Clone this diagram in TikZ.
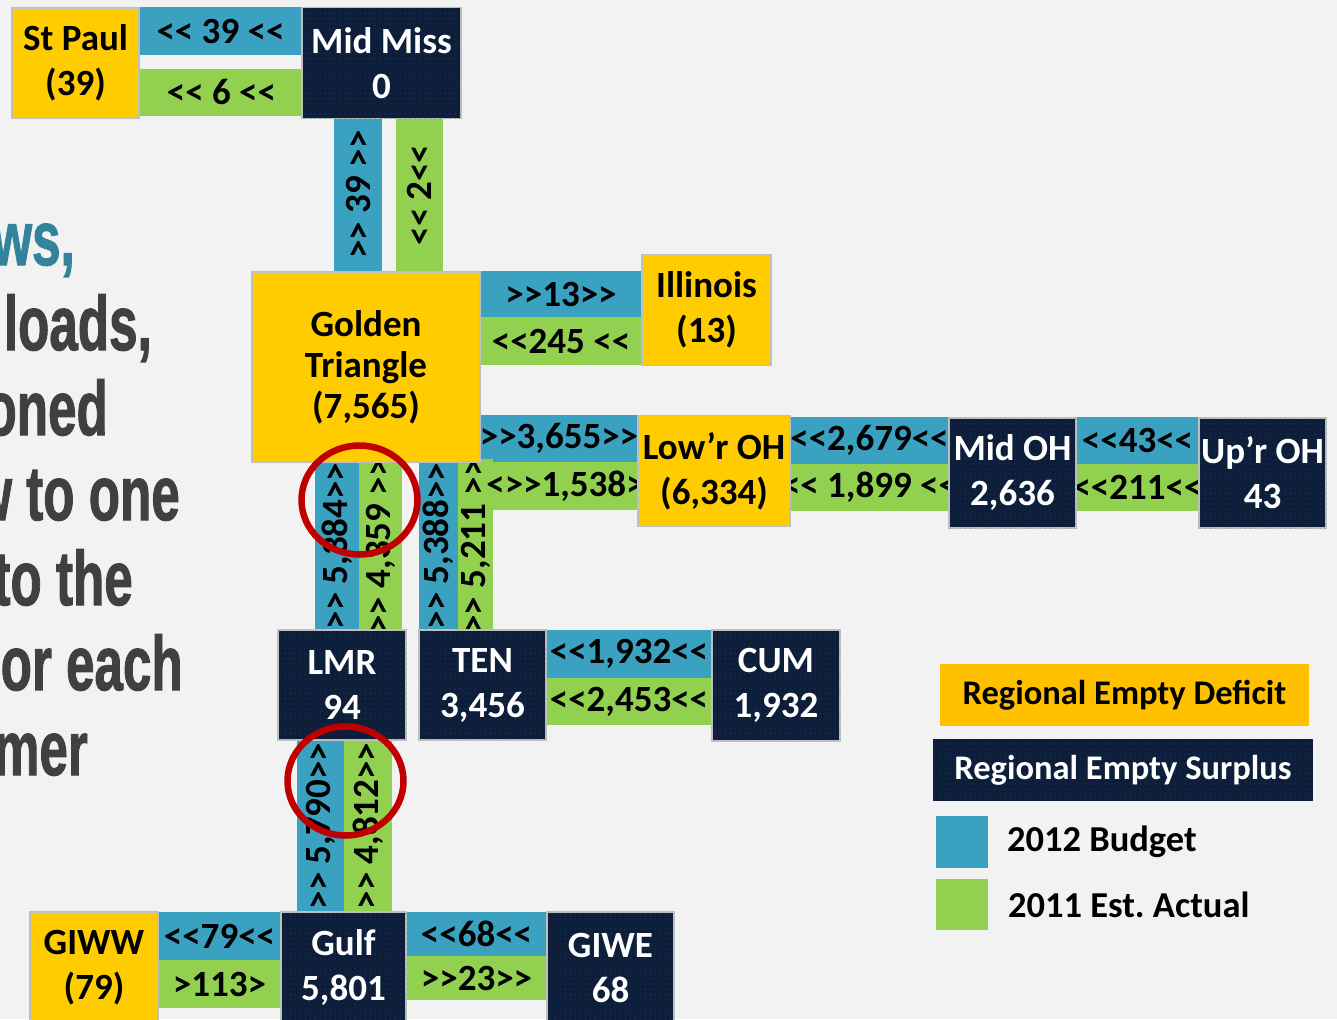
\documentclass[tikz,border=0pt]{standalone}
\usepackage{fontspec}
\usepackage{graphicx}
\usepackage{xcolor}
\usepackage{tikz}
\usetikzlibrary{positioning,patterns.meta}
\newfontfamily\calib{Carlito}
\newfontfamily\headfont{Liberation Sans}[BoldFeatures={FakeBold=1.6}]
\definecolor{deficitgold}{RGB}{255,204,0}
\definecolor{legendgold}{RGB}{255,192,0}
\definecolor{surplusnavy}{RGB}{12,30,58}
\definecolor{dotnavy}{RGB}{58,78,108}
\definecolor{budgetblue}{RGB}{59,161,192}
\definecolor{actualgreen}{RGB}{146,208,80}
\definecolor{slidegray}{RGB}{242,242,242}
\definecolor{edgegray}{RGB}{191,191,191}
\definecolor{circlered}{RGB}{192,0,0}
\definecolor{headteal}{RGB}{49,132,155}
\definecolor{headgray}{RGB}{64,64,64}
\tikzset{
  region/.style={draw=edgegray, line width=1.5pt, inner sep=0pt, outer sep=0pt, align=center, font=\calib\bfseries\fontsize{37}{45}\selectfont},
  deficit/.style={region, fill=deficitgold, text=black},
  surplus/.style={region, fill=surplusnavy, text=white, postaction={pattern={Dots[distance=5pt, radius=0.5pt]}, pattern color=dotnavy}},
  flow/.style={inner sep=0pt, outer sep=0pt, font=\calib\bfseries\fontsize{37}{40}\selectfont},
  budget/.style={flow, fill=budgetblue},
  actual/.style={flow, fill=actualgreen},
  headline/.style={anchor=base east, inner sep=0pt, text=headgray, font=\headfont\bfseries\fontsize{64}{70}\selectfont}
}

\begin{document}
\begin{tikzpicture}[x=1pt, y=-1pt]
\fill[slidegray] (0,0) rectangle (1337,1019);
\useasboundingbox (0,0) rectangle (1337,1019);
\clip (0,0) rectangle (1337,1019);

% slide text, cut at the left edge
\node[headline, text=headteal] (hlws) at (75,265) {\scalebox{0.8}[1.2]{ws,}};
\node[headline] (hlloads) at (152,350) {\scalebox{0.8}[1.2]{loads,}};
\node[headline] (hloned) at (108,435) {\scalebox{0.8}[1.2]{oned}};
\node[headline] (hltoone) at (180,520) {\scalebox{0.8}[1.2]{w to one}};
\node[headline] (hltothe) at (133,605) {\scalebox{0.8}[1.2]{to the}};
\node[headline] (hloreach) at (183,690) {\scalebox{0.8}[1.2]{or each}};
\node[headline] (hlmer) at (88,775) {\scalebox{0.8}[1.2]{mer}};

% flow bars
\node[budget, minimum width=163, minimum height=48] (spb) at (220.5,31) {<< 39 <<};
\node[actual, minimum width=165, minimum height=47] (spa) at (221.5,92.5) {<< 6 <<};
\node[budget, rotate=90, minimum width=153, minimum height=48] (mmb) at (358,194.5) {>> 39 >>};
\node[actual, rotate=90, minimum width=154, minimum height=47] (mma) at (419.5,195) {<< 2<<};
\node[budget, minimum width=162, minimum height=46] (ilb) at (561,294) {>>13>>};
\node[actual, minimum width=162, minimum height=48] (ila) at (561,341) {<<245 <<};
\node[budget, minimum width=158, minimum height=47] (lob) at (559,438.5) {>>3,655>>};
\node[actual, rotate=90, minimum width=168, minimum height=35] (tna) at (475.5,546) {>> 5,211 >>};
\node[actual, minimum width=145, minimum height=48] (loa) at (565.5,486) {<>>1,538>};
\node[budget, minimum width=159, minimum height=47] (mob) at (869.5,440.5) {<<2,679<<};
\node[actual, minimum width=159, minimum height=47] (moa) at (869.5,487.5) {<< 1,899 <<};
\node[budget, minimum width=123, minimum height=47] (upb) at (1137.5,440.5) {<<43<<};
\node[actual, minimum width=123, minimum height=47] (upa) at (1137.5,487.5) {<<211<<};
\node[budget, rotate=90, minimum width=168, minimum height=44] (lmb) at (337,546) {>> 5,384>>};
\node[actual, rotate=90, minimum width=168, minimum height=43] (lma) at (380.5,546) {>> 4,359 >>};
\node[budget, rotate=90, minimum width=168, minimum height=39] (tnb) at (438.5,546) {>> 5,388>>};
\node[budget, minimum width=166, minimum height=48] (cub) at (629,654) {<<1,932<<};
\node[actual, minimum width=166, minimum height=47] (cua) at (629,701.5) {<<2,453<<};
\node[budget, rotate=90, minimum width=172, minimum height=47] (gub) at (320.5,826) {>> 5,790>>};
\node[actual, rotate=90, minimum width=172, minimum height=48] (gua) at (368,826) {>> 4,812>>};
\node[budget, minimum width=123, minimum height=48] (gwb) at (219.5,936) {<<79<<};
\node[actual, minimum width=123, minimum height=48] (gwa) at (219.5,984) {>113>};
\node[budget, minimum width=141, minimum height=44] (geb) at (476.5,934) {<<68<<};
\node[actual, minimum width=141, minimum height=44] (gea) at (476.5,978) {>>23>>};

% regions
\node[deficit, minimum width=127, minimum height=110] (stpaul) at (75.5,63) {St Paul\\(39)};
\node[surplus, minimum width=159, minimum height=111] (midmiss) at (381.5,63) {Mid Miss\\0};
\node[deficit, minimum width=228, minimum height=190, font=\calib\bfseries\fontsize{37}{41}\selectfont] (golden) at (366,367) {Golden\\Triangle\\(7,565)};
\node[deficit, minimum width=129, minimum height=111] (illinois) at (706.5,310) {Illinois\\(13)};
\node[deficit, minimum width=152, minimum height=111] (lowroh) at (714,471) {Low’r OH\\(6,334)};
\node[surplus, minimum width=127, minimum height=110] (midoh) at (1012.5,473) {Mid OH\\2,636};
\node[surplus, minimum width=127, minimum height=110] (uproh) at (1262.5,473) {Up’r OH\\43};
\node[surplus, minimum width=128, minimum height=110] (lmr) at (342,685) {LMR\\94};
\node[surplus, minimum width=127, minimum height=110] (ten) at (482.5,685) {TEN\\3,456};
\node[surplus, minimum width=128, minimum height=111] (cum) at (776,685.5) {CUM\\1,932};
\node[surplus, minimum width=125, minimum height=111] (gulf) at (343.5,967.5) {Gulf\\5,801};
\node[surplus, minimum width=127, minimum height=111] (giwe) at (610.5,967.5) {GIWE\\68};
\node[deficit, minimum width=128, minimum height=111] (giww) at (94,967.5) {GIWW\\(79)};

% legend
\node[region, draw=none, fill=legendgold, minimum width=369, minimum height=62, font=\calib\bfseries\fontsize{34.5}{40}\selectfont] (legdeficit) at (1124.5,695) {Regional Empty Deficit};
\node[surplus, draw=none, minimum width=380, minimum height=62, font=\calib\bfseries\fontsize{34.5}{40}\selectfont] (legsurplus) at (1123,770) {Regional Empty Surplus};
\node[budget, minimum size=52] (legbudget) at (962,842) {};
\node[actual, minimum width=52, minimum height=51] (legactual) at (962,904.5) {};
\node[flow, anchor=west, right=19pt of legbudget, font=\calib\bfseries\fontsize{36.5}{40}\selectfont] (legbudgettext) {2012 Budget};
\node[flow, anchor=west, right=20pt of legactual, font=\calib\bfseries\fontsize{36.5}{40}\selectfont] (legactualtext) {2011 Est.\ Actual};

% highlight rings
\draw[circlered, line width=6.5pt] (359.5,500) ellipse [x radius=58, y radius=54.5];
\draw[circlered, line width=6.5pt] (345.5,781) ellipse [x radius=58, y radius=54.5];
\end{tikzpicture}
\end{document}
